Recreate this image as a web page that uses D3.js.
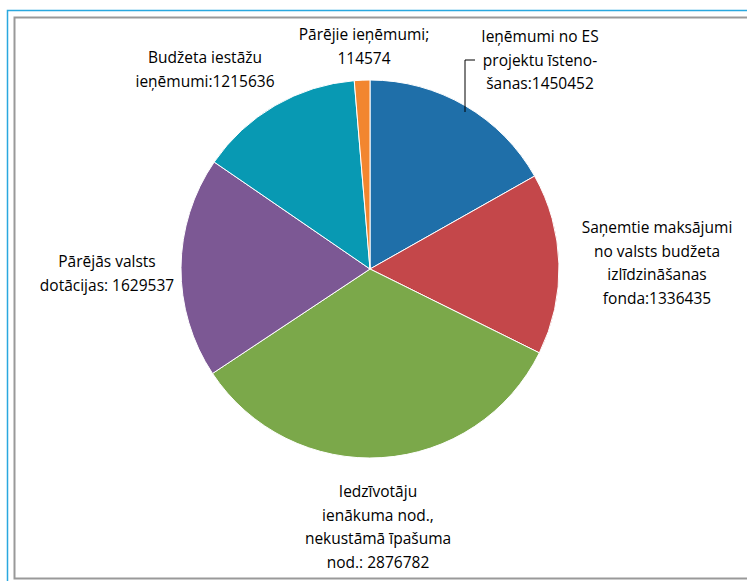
<!DOCTYPE html>
<html><head><meta charset="utf-8">
<script src="https://cdn.jsdelivr.net/npm/d3@7"></script>
<style>body{margin:0;background:#fff;}svg{display:block;}</style>
</head><body>
<script>
const categories = ["Ieņēmumi no ES projektu īstenošanas","Saņemtie maksājumi no valsts budžeta izlīdzināšanas fonda","Iedzīvotāju ienākuma nod., nekustāmā īpašuma nod.","Pārējās valsts dotācijas","Budžeta iestāžu ieņēmumi","Pārējie ieņēmumi"];
const values = [1450452,1336435,2876782,1629537,1215636,114574];
const colors = ["#1f6fa9","#c4474a","#7ba84a","#7c5894","#0899b3","#f2862f"];
const labelLines = [
  ["Ieņēmumi no ES","projektu īsteno-","šanas:1450452"],
  ["Saņemtie maksājumi","no valsts budžeta","izlīdzināšanas","fonda:1336435"],
  ["Iedzīvotāju","ienākuma nod.,","nekustāmā īpašuma","nod.: 2876782"],
  ["Pārējās valsts","dotācijas: 1629537"],
  ["Budžeta iestāžu","ieņēmumi:1215636"],
  ["Pārējie ieņēmumi;","114574"]
];
const labelPos = [[540,42],[657,233],[378,497],[107,267],[205,63],[364,40]];

const W=747,H=581;
const svg=d3.select("body").append("svg").attr("width",W).attr("height",H);
// frames
svg.append("rect").attr("x",7.5).attr("y",10.5).attr("width",W+10).attr("height",H+10).attr("fill","none").attr("stroke","#2aa8df").attr("stroke-width",1.5);
svg.append("rect").attr("x",14.5).attr("y",17.5).attr("width",W+10).attr("height",561).attr("fill","none").attr("stroke","#999").attr("stroke-width",2);

const cx=370, cy=269, r=189;
const pie=d3.pie().sort(null).value(d=>d);
const arc=d3.arc().innerRadius(0).outerRadius(r);
const g=svg.append("g").attr("transform",`translate(${cx},${cy})`);
g.selectAll("path").data(pie(values)).join("path")
  .attr("d",arc).attr("fill",(d,i)=>colors[i]).attr("stroke","#fff").attr("stroke-width",1);

// leader line for first slice
svg.append("polyline").attr("points","465,112 465,60 475,60").attr("fill","none").attr("stroke","#000").attr("stroke-width",1);

const lh=23.5;
labelLines.forEach((lines,i)=>{
  const t=svg.append("text").attr("text-anchor","middle")
    .attr("font-family","'Open Sans', sans-serif").attr("font-size",15.5).attr("fill","#000");
  lines.forEach((s,j)=>{
    t.append("tspan").attr("x",labelPos[i][0]).attr("y",labelPos[i][1]+j*lh).text(s);
  });
});
</script>
</body></html>
